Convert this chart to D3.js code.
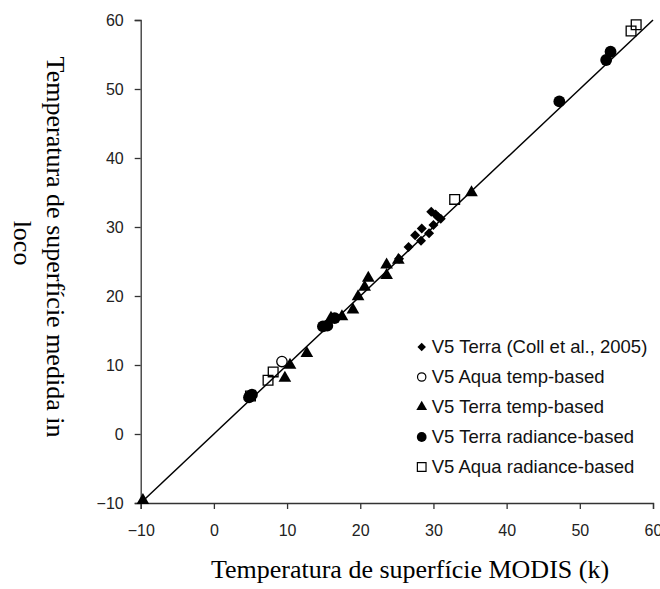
<!DOCTYPE html>
<html>
<head>
<meta charset="utf-8">
<script src="https://cdn.jsdelivr.net/npm/d3@7/dist/d3.min.js"></script>
<style>
  body { margin: 0; background: #fff; }
  .axis text { font-family: "Liberation Sans", Arial, sans-serif; font-size: 16px; fill: #222; }
  .axis path, .axis line { stroke: #333; stroke-width: 1.3; }
</style>
</head>
<body>
<svg class="chart"></svg>
<script>
var width = 660,
    height = 589;

// [MODIS, in loco] pairs for each series
var terraColl = [[29.7, 32.2], [30.3, 31.8], [30.6, 31.5], [30.0, 30.3], [29.4, 29.1], [28.4, 29.8],
                 [27.5, 28.8], [28.3, 28.0], [26.6, 27.1], [25.3, 25.4], [31.0, 31.2]];
var aquaTemp = [[9.3, 10.5]];
var terraTemp = [[-9.7, -9.6], [10.4, 10.0], [9.7, 8.1], [12.7, 11.7], [16.0, 16.8], [17.5, 17.0],
                 [19.0, 18.0], [19.7, 19.9], [20.6, 21.3], [21.1, 22.6], [23.6, 24.5], [23.6, 23.0],
                 [25.2, 25.2], [35.2, 35.0]];
var terraRad = [[4.8, 5.3], [5.2, 5.7], [5.0, 5.5], [14.9, 15.6], [15.5, 15.7], [16.5, 16.8],
                [47.2, 48.2], [53.6, 54.2], [54.2, 55.4]];
var aquaRad = [[5.0, 5.5], [7.4, 7.8], [8.1, 9.0], [32.9, 34.0], [57.0, 58.4], [57.7, 59.3]];

var seriesNames = ["V5 Terra (Coll et al., 2005)", "V5 Aqua temp-based", "V5 Terra temp-based",
                   "V5 Terra radiance-based", "V5 Aqua radiance-based"];
var xTicks = [-10, 0, 10, 20, 30, 40, 50, 60];
var yTicks = [-10, 0, 10, 20, 30, 40, 50, 60];
var lineEnds = [-10, 60];

var svg = d3.select(".chart").attr("width", width).attr("height", height);

var x = d3.scaleLinear().domain([-10, 60]).range([140.7, 653]);
var y = d3.scaleLinear().domain([-10, 60]).range([503, 20]);

svg.append("g")
    .attr("class", "axis")
    .attr("transform", "translate(0," + y(-10) + ")")
    .call(d3.axisBottom(x).tickValues(xTicks).tickSize(6).tickPadding(16));

svg.append("g")
    .attr("class", "axis")
    .attr("transform", "translate(" + x(-10) + ",0)")
    .call(d3.axisLeft(y).tickValues(yTicks).tickSize(6).tickPadding(11));

// 1:1 line
svg.append("line")
    .attr("x1", x(lineEnds[0])).attr("y1", y(lineEnds[0]))
    .attr("x2", x(lineEnds[1])).attr("y2", y(lineEnds[1]))
    .attr("stroke", "#000")
    .attr("stroke-width", 1.5);

// diamonds are squares turned 45 degrees
var styles = [
  {data: terraColl, shape: d3.symbolSquare, rot: 45, size: 50, fill: "#000", stroke: "none", lsize: 36},
  {data: aquaTemp, shape: d3.symbolCircle, rot: 0, size: 85, fill: "#fff", stroke: "#000", lsize: 55},
  {data: terraTemp, shape: d3.symbolTriangle, rot: 0, size: 70, fill: "#000", stroke: "none", lsize: 50},
  {data: terraRad, shape: d3.symbolCircle, rot: 0, size: 110, fill: "#000", stroke: "none", lsize: 75},
  {data: aquaRad, shape: d3.symbolSquare, rot: 0, size: 95, fill: "none", stroke: "#000", lsize: 75}
];

// draw order: filled circles under the open squares
[3, 0, 2, 1, 4].forEach(function(i) {
  var s = styles[i];
  svg.append("g")
    .selectAll("path")
    .data(s.data)
    .enter().append("path")
      .attr("transform", function(d) { return "translate(" + x(d[0]) + "," + y(d[1]) + ") rotate(" + s.rot + ")"; })
      .attr("d", d3.symbol().type(s.shape).size(s.size))
      .attr("fill", s.fill)
      .attr("stroke", s.stroke)
      .attr("stroke-width", 1.3);
});

var legend = svg.append("g")
    .attr("font-family", "Liberation Sans, Arial, sans-serif")
    .attr("font-size", 18.5)
  .selectAll("g")
  .data(seriesNames)
  .enter().append("g")
    .attr("transform", function(d, i) { return "translate(421.7," + (347 + i * 30) + ")"; });

legend.append("path")
    .attr("transform", function(d, i) { return "rotate(" + styles[i].rot + ")"; })
    .attr("d", function(d, i) { return d3.symbol().type(styles[i].shape).size(styles[i].lsize)(); })
    .attr("fill", function(d, i) { return styles[i].fill; })
    .attr("stroke", function(d, i) { return styles[i].stroke; })
    .attr("stroke-width", 1.2);

legend.append("text")
    .attr("x", 10)
    .attr("dy", "0.35em")
    .attr("fill", "#111")
    .text(function(d) { return d; });

// axis titles
svg.append("text")
    .attr("x", 410)
    .attr("y", 578)
    .attr("text-anchor", "middle")
    .attr("font-family", "Liberation Serif, Times New Roman, serif")
    .attr("font-size", 26)
    .text("Temperatura de superfície MODIS (k)");

var yTitle = svg.append("g")
    .attr("font-family", "Liberation Serif, Times New Roman, serif")
    .attr("font-size", 26)
    .attr("text-anchor", "middle");

yTitle.append("text")
    .attr("transform", "translate(47,247) rotate(90)")
    .text("Temperatura de superfície medida in");

yTitle.append("text")
    .attr("transform", "translate(14,243) rotate(90)")
    .text("loco");
</script>
</body>
</html>
